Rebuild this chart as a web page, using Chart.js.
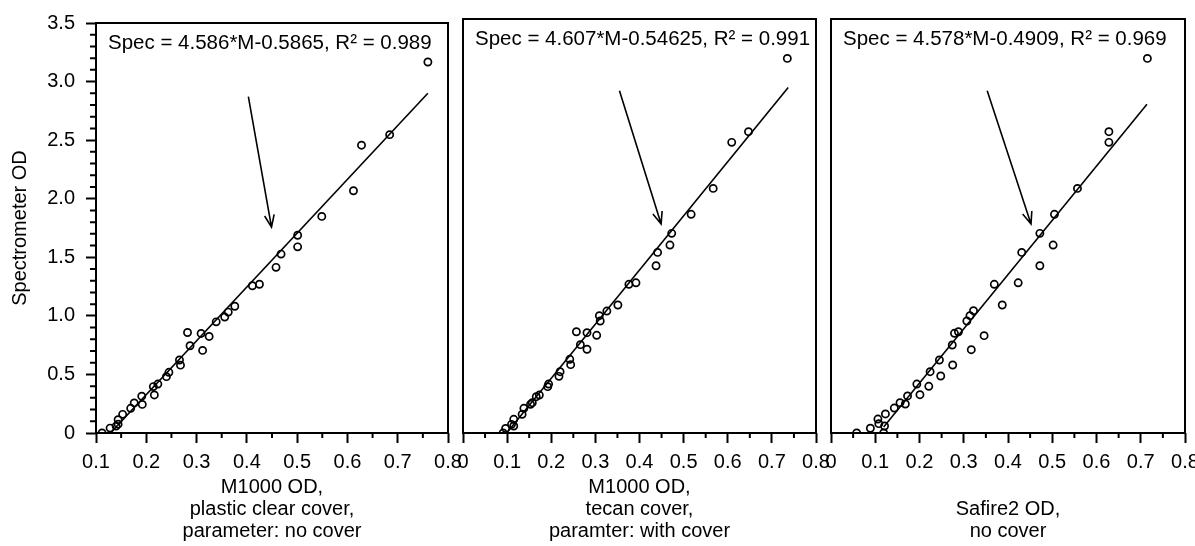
<!DOCTYPE html>
<html>
<head>
<meta charset="utf-8">
<script src="https://cdn.jsdelivr.net/npm/chart.js@4"></script>
<style>
  html, body { margin: 0; padding: 0; background: #fff; overflow: hidden; }
  #wrap { position: relative; width: 1195px; height: 546px; }
  canvas { position: absolute; top: 0; }
</style>
</head>
<body>
<div id="wrap">
  <canvas id="chartA" width="470" height="546" style="left:0px"></canvas>
  <canvas id="chartB" width="400" height="546" style="left:440px"></canvas>
  <canvas id="chartC" width="400" height="546" style="left:808px"></canvas>
</div>
<script>
// M1000, plastic clear cover (parameter: no cover)
const plasticX = [0.760, 0.684, 0.628, 0.612, 0.549, 0.501, 0.501, 0.468, 0.458, 0.425, 0.411,
  0.376, 0.363, 0.356, 0.339, 0.282, 0.309, 0.325, 0.287, 0.312, 0.266, 0.268, 0.245, 0.240,
  0.223, 0.214, 0.216, 0.191, 0.192, 0.176, 0.169, 0.153, 0.144, 0.144, 0.140, 0.128, 0.112];
const plasticY = [3.167, 2.547, 2.457, 2.068, 1.849, 1.688, 1.589, 1.527, 1.414, 1.270, 1.257,
  1.082, 1.032, 0.990, 0.949, 0.858, 0.850, 0.824, 0.745, 0.705, 0.623, 0.579, 0.518, 0.481,
  0.418, 0.396, 0.325, 0.314, 0.244, 0.257, 0.211, 0.159, 0.113, 0.075, 0.059, 0.042, 0];

// M1000, tecan cover (paramter: with cover)
const tecanX = [0.735, 0.647, 0.609, 0.567, 0.517, 0.473, 0.469, 0.441, 0.4375, 0.392, 0.376,
  0.351, 0.326, 0.309, 0.311, 0.257, 0.281, 0.303, 0.266, 0.281, 0.242, 0.244, 0.220, 0.2175,
  0.194, 0.192, 0.173, 0.166, 0.157, 0.153, 0.138, 0.134, 0.115, 0.110, 0.115, 0.0965, 0.091];
const tecanY = [3.167, 2.547, 2.457, 2.068, 1.849, 1.688, 1.589, 1.527, 1.414, 1.270, 1.257,
  1.082, 1.031, 0.992, 0.947, 0.856, 0.848, 0.826, 0.747, 0.708, 0.623, 0.578, 0.518, 0.479,
  0.414, 0.392, 0.321, 0.307, 0.256, 0.242, 0.209, 0.158, 0.116, 0.073, 0.059, 0.039, 0];

// Safire2, no cover
const safireX = [0.715, 0.628, 0.628, 0.557, 0.505, 0.472, 0.502, 0.431, 0.472, 0.369, 0.423,
  0.387, 0.322, 0.314, 0.307, 0.288, 0.279, 0.346, 0.274, 0.317, 0.245, 0.224, 0.275, 0.248,
  0.194, 0.221, 0.173, 0.201, 0.156, 0.168, 0.143, 0.123, 0.106, 0.108, 0.121, 0.089, 0.058, 0.119];
const safireY = [3.167, 2.547, 2.457, 2.068, 1.849, 1.688, 1.589, 1.527, 1.414, 1.257, 1.270,
  1.082, 1.034, 0.992, 0.947, 0.856, 0.843, 0.823, 0.744, 0.704, 0.617, 0.518, 0.575, 0.482,
  0.414, 0.395, 0.313, 0.324, 0.256, 0.245, 0.211, 0.161, 0.118, 0.079, 0.059, 0.040, 0, 0];

// fit lines (end points), arrows (from -> to), in data units
const plasticFitX = [0.12, 0.76];   const plasticFitY = [-0.04, 2.90];
const tecanFitX = [0.099, 0.737];   const tecanFitY = [0, 2.92];
const safireFitX = [0.119, 0.714];  const safireFitY = [0.05, 2.78];
const plasticArrow = [[0.403, 2.871], [0.449, 1.758]];
const tecanArrow = [[0.3546, 2.894], [0.449, 1.767]];
const safireArrow = [[0.353, 2.894], [0.452, 1.767]];

const plasticLabel = 'Spec = 4.586*M-0.5865, R\u00B2 = 0.989';
const tecanLabel = 'Spec = 4.607*M-0.54625, R\u00B2 = 0.991';
const safireLabel = 'Spec = 4.578*M-0.4909, R\u00B2 = 0.969';

const yTitle = 'Spectrometer OD';
const plasticTitle = ['M1000 OD,', 'plastic clear cover,', 'parameter: no cover'];
const tecanTitle = ['M1000 OD,', 'tecan cover,', 'paramter: with cover'];
const safireTitle = ['Safire2 OD,', 'no cover'];

const FONT = "'Liberation Sans', Arial, Helvetica, sans-serif";
const fmt = v => (Math.abs(v) < 1e-9 ? '0' : Number(v).toFixed(1));

// box around the plot, minor ticks, arrow and equation text
const panelDecor = {
  id: 'panelDecor',
  afterDraw(chart, args, opts) {
    const { ctx, chartArea: a } = chart;
    const x = chart.scales.x, y = chart.scales.y;
    ctx.save();
    ctx.strokeStyle = '#000';
    ctx.lineWidth = 2;
    ctx.strokeRect(a.left, a.top, a.right - a.left, a.bottom - a.top);

    ctx.beginPath();
    for (let i = Math.round(x.min * 20); i <= Math.round(x.max * 20); i++) {
      if (i % 2 === 0) continue;
      const px = x.getPixelForValue(i / 20);
      ctx.moveTo(px, a.bottom);
      ctx.lineTo(px, a.bottom + 5);
    }
    if (opts.minorY) {
      for (let i = Math.round(y.min * 10); i <= Math.round(y.max * 10); i++) {
        if (i % 5 === 0) continue;
        const py = y.getPixelForValue(i / 10);
        ctx.moveTo(a.left - 6, py);
        ctx.lineTo(a.left, py);
      }
    }
    ctx.stroke();

    // arrow
    const [from, to] = opts.arrow;
    const x0 = x.getPixelForValue(from[0]), y0 = y.getPixelForValue(from[1]);
    const x1 = x.getPixelForValue(to[0]), y1 = y.getPixelForValue(to[1]);
    const ang = Math.atan2(y1 - y0, x1 - x0);
    const head = 13, spread = 0.38;
    ctx.lineWidth = 1.6;
    ctx.beginPath();
    ctx.moveTo(x0, y0);
    ctx.lineTo(x1, y1);
    ctx.moveTo(x1 - head * Math.cos(ang - spread), y1 - head * Math.sin(ang - spread));
    ctx.lineTo(x1, y1);
    ctx.lineTo(x1 - head * Math.cos(ang + spread), y1 - head * Math.sin(ang + spread));
    ctx.stroke();

    ctx.fillStyle = '#000';
    ctx.font = '20.5px ' + FONT;
    ctx.textAlign = 'left';
    ctx.textBaseline = 'top';
    ctx.fillText(opts.label, a.left + 12, a.top + 10);
    ctx.restore();
  }
};

function makePanel(id, xs, ys, fitX, fitY, cfg) {
  const pts = xs.map((v, i) => ({ x: v, y: ys[i] }));
  const fit = fitX.map((v, i) => ({ x: v, y: fitY[i] }));
  const tickFont = { family: FONT, size: 20 };
  return new Chart(document.getElementById(id), {
    type: 'scatter',
    data: {
      datasets: [
        {
          data: pts,
          showLine: false,
          pointStyle: 'circle',
          pointRadius: 3.6,
          pointBorderWidth: 1.7,
          pointBorderColor: '#000',
          pointBackgroundColor: 'rgba(0,0,0,0)'
        },
        {
          type: 'line',
          data: fit,
          borderColor: '#000',
          borderWidth: 1.6,
          pointRadius: 0,
          fill: false
        }
      ]
    },
    plugins: [panelDecor],
    options: {
      responsive: false,
      animation: false,
      devicePixelRatio: 1,
      layout: { padding: { left: cfg.padLeft, right: cfg.padRight, top: 19, bottom: 0 } },
      plugins: {
        legend: { display: false },
        tooltip: { enabled: false },
        panelDecor: { arrow: cfg.arrow, label: cfg.label, minorY: cfg.showY }
      },
      scales: {
        x: {
          type: 'linear',
          min: cfg.xMin,
          max: 0.8,
          afterFit: s => { s.height = 113; },
          border: { display: false },
          grid: { drawOnChartArea: false, drawTicks: true, tickLength: 10, tickWidth: 2, tickColor: '#000' },
          ticks: { stepSize: 0.1, padding: 7, color: '#000', font: tickFont, maxRotation: 0, autoSkip: false, callback: fmt },
          title: { display: true, text: cfg.title, color: '#000', font: { family: FONT, size: 20, lineHeight: 1.12 }, padding: { top: 0, bottom: 3 } }
        },
        y: {
          type: 'linear',
          display: cfg.showY,
          min: 0,
          max: 3.5,
          afterFit: s => { if (cfg.showY) s.width = 96; },
          border: { display: false },
          grid: { drawOnChartArea: false, drawTicks: true, tickLength: 10, tickWidth: 2, tickColor: '#000' },
          ticks: { stepSize: 0.5, padding: 11, color: '#000', font: tickFont, callback: fmt },
          title: { display: true, text: yTitle, color: '#000', font: { family: FONT, size: 20 }, padding: { top: 8, bottom: 0 } }
        }
      }
    }
  });
}

makePanel('chartA', plasticX, plasticY, plasticFitX, plasticFitY,
  { xMin: 0.1, showY: true, padLeft: 0, padRight: 22, arrow: plasticArrow, label: plasticLabel, title: plasticTitle });
makePanel('chartB', tecanX, tecanY, tecanFitX, tecanFitY,
  { xMin: 0, showY: false, padLeft: 23, padRight: 24, arrow: tecanArrow, label: tecanLabel, title: tecanTitle });
makePanel('chartC', safireX, safireY, safireFitX, safireFitY,
  { xMin: 0, showY: false, padLeft: 23, padRight: 23, arrow: safireArrow, label: safireLabel, title: safireTitle });
</script>
</body>
</html>
